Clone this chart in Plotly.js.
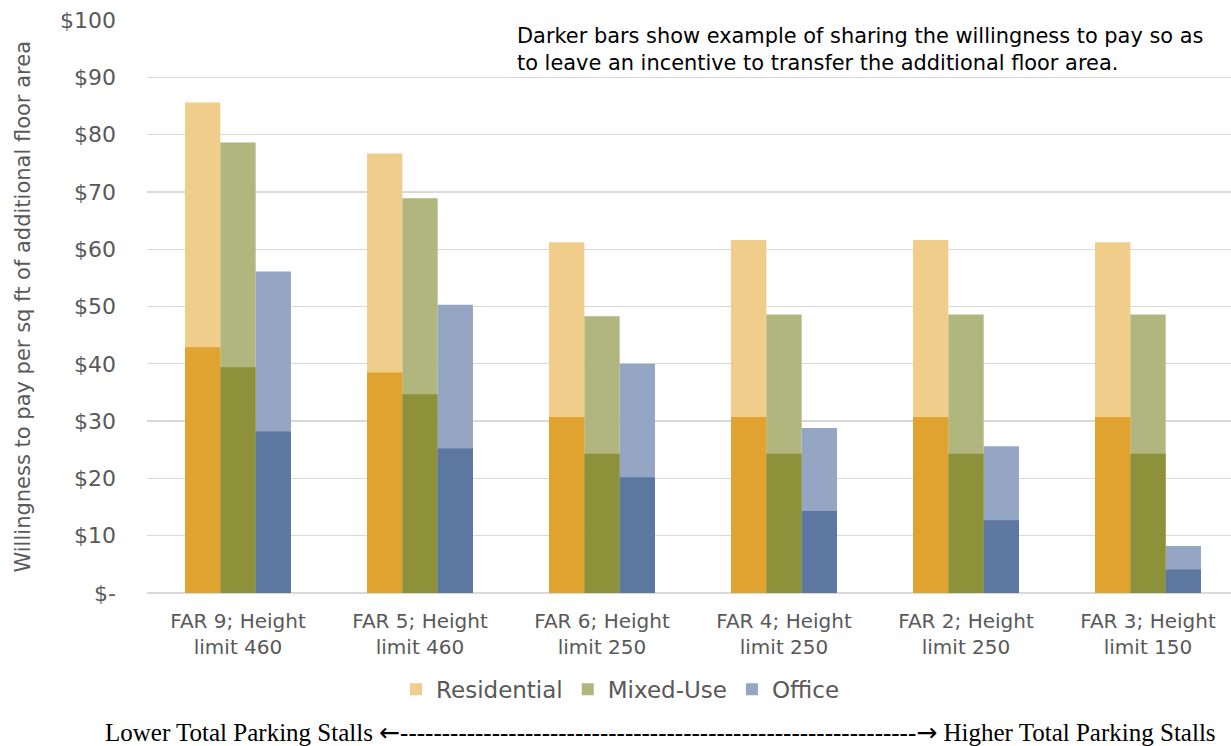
<!DOCTYPE html>
<html>
<head>
<meta charset="utf-8">
<script src="https://cdn.plot.ly/plotly-3.0.1.min.js"></script>
<style>
  html, body { margin: 0; padding: 0; background: #ffffff; }
  #chart { width: 1231px; height: 746px; }
</style>
</head>
<body>
<div id="chart"></div>
<script>
// Development scenarios (FAR and height limit)
const categories = [
  "FAR 9; Height<br>limit 460",
  "FAR 5; Height<br>limit 460",
  "FAR 6; Height<br>limit 250",
  "FAR 4; Height<br>limit 250",
  "FAR 2; Height<br>limit 250",
  "FAR 3; Height<br>limit 150"
];

// Full willingness to pay ($ per sq ft of additional floor area)
const residential = [85.6, 76.7, 61.2, 61.6, 61.6, 61.2];
const mixedUse    = [78.6, 68.9, 48.3, 48.6, 48.6, 48.6];
const office      = [56.1, 50.3, 40.0, 28.8, 25.6, 8.2];

// Shared portion of the willingness to pay (darker bars)
const residentialShared = [42.9, 38.5, 30.7, 30.7, 30.7, 30.7];
const mixedUseShared    = [39.4, 34.7, 24.3, 24.3, 24.3, 24.3];
const officeShared      = [28.2, 25.2, 20.2, 14.3, 12.7, 4.1];

// Y axis ticks
const yTickValues = [0, 10, 20, 30, 40, 50, 60, 70, 80, 90, 100];
const yTickLabels = ["$-", "$10", "$20", "$30", "$40", "$50", "$60", "$70", "$80", "$90", "$100"];

const series = [
  { name: "Residential", full: residential, shared: residentialShared, light: "#f0cd8b", dark: "#e0a32f" },
  { name: "Mixed-Use",   full: mixedUse,    shared: mixedUseShared,    light: "#b1b57e", dark: "#8c913a" },
  { name: "Office",      full: office,      shared: officeShared,      light: "#94a6c3", dark: "#5c77a0" }
];

const barWidth = 0.194;
const offsets = [-0.291, -0.097, 0.097];

const traces = [];
series.forEach((s, i) => {
  traces.push({
    type: "bar",
    name: s.name,
    x: categories,
    y: s.full,
    width: barWidth,
    offset: offsets[i],
    marker: { color: s.light, line: { width: 0 } },
    hoverinfo: "x+y+name",
    showlegend: true
  });
});
series.forEach((s, i) => {
  traces.push({
    type: "bar",
    name: s.name + " (shared)",
    x: categories,
    y: s.shared,
    width: barWidth,
    offset: offsets[i],
    marker: { color: s.dark, line: { width: 0 } },
    hoverinfo: "x+y+name",
    showlegend: false
  });
});

const grey = "#595959";
const sansFont = "'DejaVu Sans', Verdana, sans-serif";
const serifFont = "'Liberation Serif', 'Times New Roman', serif";

const arrowSpan = (ch) => "<span style=\"font-family:'DejaVu Sans'\">" + ch + "</span>";

const noteX = (515 - 147) / 1084;
const noteFont = { family: sansFont, size: 20.9, color: "#000000" };

const layout = {
  width: 1231,
  height: 746,
  margin: { l: 147, r: 0, t: 20, b: 153 },
  paper_bgcolor: "#ffffff",
  plot_bgcolor: "#ffffff",
  barmode: "overlay",
  showlegend: true,
  legend: {
    orientation: "h",
    x: 0.4364,
    xanchor: "center",
    y: -0.168,
    yanchor: "middle",
    font: { family: sansFont, size: 23, color: grey },
    traceorder: "normal"
  },
  xaxis: {
    type: "category",
    range: [-0.5, 5.456],
    showgrid: false,
    showline: false,
    zeroline: false,
    ticks: "",
    tickfont: { family: sansFont, size: 20, color: grey },
    ticklabelstandoff: 14,
    fixedrange: true
  },
  yaxis: {
    range: [0, 100],
    tickvals: yTickValues,
    ticktext: yTickLabels,
    showgrid: true,
    gridcolor: "#d9d9d9",
    gridwidth: 1.3,
    zeroline: true,
    zerolinecolor: "#d9d9d9",
    zerolinewidth: 1.3,
    showline: false,
    ticks: "",
    tickfont: { family: sansFont, size: 22, color: grey },
    ticklabelstandoff: 30,
    fixedrange: true
  },
  annotations: [
    {
      text: "Willingness to pay per sq ft of additional floor area",
      xref: "paper", yref: "paper",
      x: -0.1153, y: 0.5,
      xanchor: "center", yanchor: "middle",
      textangle: -90,
      showarrow: false,
      font: { family: sansFont, size: 21, color: grey }
    },
    {
      text: "Darker bars show example of sharing the willingness to pay so as",
      xref: "paper", yref: "paper",
      x: noteX, y: 1 - (36 - 20) / 573,
      xanchor: "left", yanchor: "middle",
      showarrow: false,
      font: noteFont
    },
    {
      text: "to leave an incentive to transfer the additional floor area.",
      xref: "paper", yref: "paper",
      x: noteX, y: 1 - (63 - 20) / 573,
      xanchor: "left", yanchor: "middle",
      showarrow: false,
      font: noteFont
    },
    {
      text: "Lower Total Parking Stalls " + arrowSpan("\u2190") + "-".repeat(62) + arrowSpan("\u2192") + " Higher Total Parking Stalls",
      xref: "paper", yref: "paper",
      x: (660 - 147) / 1084, y: -(733 - 593) / 573,
      xanchor: "center", yanchor: "middle",
      showarrow: false,
      font: { family: serifFont, size: 25, color: "#000000" }
    }
  ]
};

Plotly.newPlot("chart", traces, layout, { displayModeBar: false, staticPlot: true });
</script>
</body>
</html>
